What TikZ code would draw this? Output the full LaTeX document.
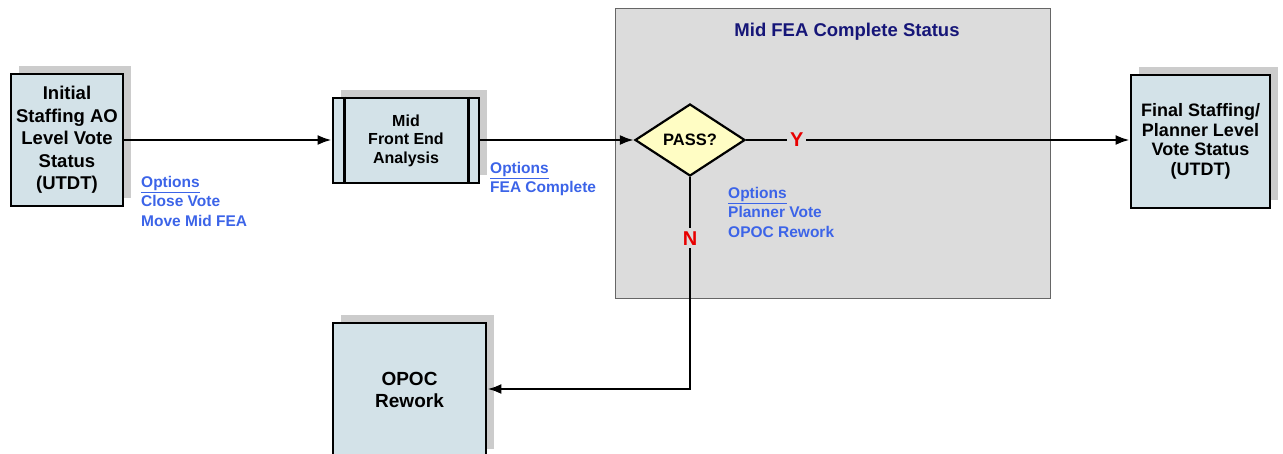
\documentclass[tikz,border=0pt]{standalone}
\usepackage{fontspec}
\setmainfont{Liberation Sans}
\usetikzlibrary{arrows.meta,shapes.geometric,shadows}
\definecolor{boxblue}{RGB}{211,226,232}
\definecolor{panelgray}{RGB}{220,220,220}
\definecolor{shadegray}{RGB}{204,204,204}
\definecolor{passyellow}{RGB}{255,253,196}
\definecolor{optblue}{RGB}{60,100,232}
\definecolor{titlenavy}{RGB}{22,22,120}
\definecolor{ynred}{RGB}{232,0,0}
\begin{document}
\begin{tikzpicture}[x=1pt,y=1pt,>={Latex[length=14pt,width=10pt]}]
        \tikzstyle{status}=[rectangle,draw=black,line width=2.8pt,fill=boxblue,align=center,inner sep=0pt,
          font=\bfseries,general shadow={fill=shadegray,shadow xshift=8pt,shadow yshift=8pt}]
        \tikzstyle{decision}=[diamond,draw=black,line width=2.2pt,fill=passyellow,inner sep=0pt,
          minimum width=110pt,minimum height=72pt,font=\bfseries\fontsize{16.5}{18}\selectfont]
        \tikzstyle{options}=[anchor=north west,inner sep=0pt,align=left,text=optblue,
          font=\bfseries\fontsize{15.5}{19.3}\selectfont]
        \tikzstyle{yn}=[fill=panelgray,inner sep=3pt,text=ynred,font=\bfseries\fontsize{20}{20}\selectfont]
        \tikzstyle{edge}=[draw,line width=2.4pt,->]
        \useasboundingbox (0,0) rectangle (1283,-453);
        % grey status panel
        \node [draw=black!60,line width=1pt,fill=panelgray,minimum width=435pt,minimum height=290pt,inner sep=0pt]
          (panel) at (832.5,-153) {};
        \node [text=titlenavy,font=\bfseries\fontsize{18.5}{20}\selectfont] (title) at (847,-32) {Mid FEA Complete Status};
        % boxes
        \node [status,minimum width=112pt,minimum height=132pt,font=\bfseries\fontsize{18.5}{22.5}\selectfont]
          (init) at (67,-140) {Initial\\Staffing AO\\Level Vote\\Status\\(UTDT)};
        \node [status,minimum width=146pt,minimum height=85pt,font=\bfseries\fontsize{16}{18.5}\selectfont]
          (mfea) at (406,-140.5) {Mid\\Front End\\Analysis};
        \draw [line width=2.8pt] ([xshift=13pt]mfea.north west) -- ([xshift=13pt]mfea.south west);
        \draw [line width=2.8pt] ([xshift=-12pt]mfea.north east) -- ([xshift=-12pt]mfea.south east);
        \node [decision] (pass) at (690,-140) {PASS?};
        \node [status,minimum width=139pt,minimum height=133pt,font=\bfseries\fontsize{18}{19.5}\selectfont]
          (final) at (1200.5,-141.5) {Final Staffing/\\Planner Level\\Vote Status\\(UTDT)};
        \node [status,minimum width=153pt,minimum height=134pt,font=\bfseries\fontsize{19}{22.5}\selectfont]
          (rework) at (409.5,-390) {OPOC\\Rework};
        % options
        \node [options] (opt1) at (141,-176) {\underline{Options}\\Close Vote\\Move Mid FEA};
        \node [options] (opt2) at (490,-162) {\underline{Options}\\FEA Complete};
        \node [options] (opt3) at (728,-187) {\underline{Options}\\Planner Vote\\OPOC Rework};
        % connectors
        \path[edge] (init.east |- 0,-140) -- (mfea.west |- 0,-140);
        \path[edge] (mfea.east |- 0,-140) -- (pass.west);
        \path[edge] (pass.east) -- node[yn,pos=0.132] {Y} (final.west |- pass.east);
        \path[edge] (pass.south) |- node[yn,pos=0.144] {N} (rework.east |- 0,-389);
\end{tikzpicture}
\end{document}
